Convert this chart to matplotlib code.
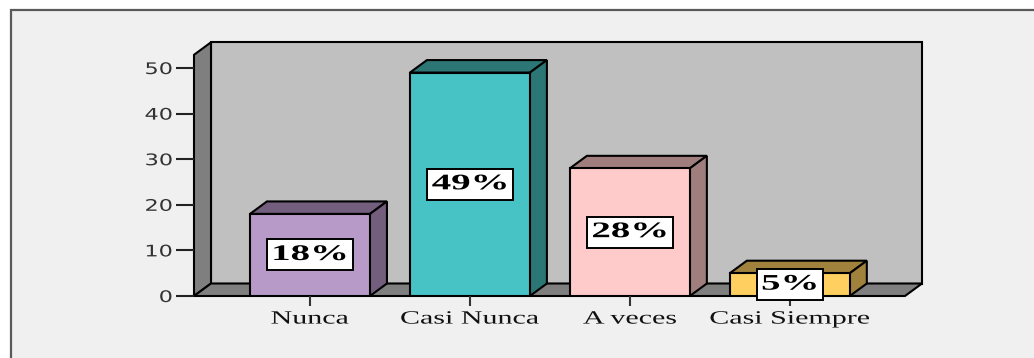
import matplotlib
matplotlib.use("Agg")
import numpy as np
import matplotlib.pyplot as plt
from matplotlib.patches import Polygon, Rectangle
from matplotlib.patheffects import AbstractPathEffect
from matplotlib.transforms import Affine2D, ScaledTranslation

# ---- data -------------------------------------------------------------
categories = ["Nunca", "Casi Nunca", "A veces", "Casi Siempre"]
percentages = [18, 49, 28, 5]
value_labels = [f"{v}%" for v in percentages]
y_ticks = [0, 10, 20, 30, 40, 50]

# ---- style ------------------------------------------------------------
front_colors = ["#B89AC8", "#47C3C5", "#FFCACA", "#FFD060"]
shade_colors = ["#735E7D", "#2D7676", "#A07E7E", "#A0823C"]
WALL_BACK = "#C0C0C0"
WALL_SIDE = "#7F7F7F"
PANEL_BG = "#F0F0F0"

W, H, DPI = 1034, 358, 100
DEPTH_PX = (17, 12.5)          # 3-D depth offset in pixels
BAR_WIDTH = 0.75


class WideGlyphs(AbstractPathEffect):
    """Draw text glyphs horizontally widened by a factor ``sx``."""

    def __init__(self, sx, anchor="center"):
        super().__init__()
        self.sx = sx
        self.anchor = anchor

    def draw_path(self, renderer, gc, tpath, affine, rgbFace=None):
        ext = tpath.get_extents()
        if self.anchor == "right":
            cx = ext.x1
        elif self.anchor == "left":
            cx = ext.x0
        else:
            cx = 0.5 * (ext.x0 + ext.x1)
        widen = Affine2D().translate(-cx, 0).scale(self.sx, 1).translate(cx, 0)
        renderer.draw_path(gc, tpath, widen + affine, rgbFace)


fig = plt.figure(figsize=(W / DPI, H / DPI), dpi=DPI, facecolor="white")

# framed panel behind the chart
fig.patches.append(Rectangle((11 / W, -0.2), 1.2, (H - 10) / H + 0.2,
                             transform=fig.transFigure, facecolor=PANEL_BG,
                             edgecolor="#5A5A5A", linewidth=1.6, zorder=-5))

# plot area (front plane)
x_left, x_right, y_zero, y_top = 194, 905, 296, 54.8
ax = fig.add_axes([x_left / W, (H - y_zero) / H,
                   (x_right - x_left) / W, (y_zero - y_top) / H])
ax.set_xlim(-0.725, 3.72)
ax.set_ylim(0, 52.9)
ax.set_facecolor("none")
for s in ax.spines.values():
    s.set_visible(False)

# depth offset expressed in data units
p0 = ax.transData.transform((0, 0))
ddx, ddy = ax.transData.inverted().transform(p0 + np.array(DEPTH_PX))

x0, x1 = ax.get_xlim()
y0, y1 = ax.get_ylim()
edge = dict(edgecolor="black", linewidth=1.5, clip_on=False)

# back wall, left wall and floor
ax.add_patch(Polygon([(x0 + ddx, y0 + ddy), (x1 + ddx, y0 + ddy),
                      (x1 + ddx, y1 + ddy), (x0 + ddx, y1 + ddy)],
                     facecolor=WALL_BACK, zorder=1, **edge))
ax.add_patch(Polygon([(x0, y0), (x0 + ddx, y0 + ddy),
                      (x0 + ddx, y1 + ddy), (x0, y1)],
                     facecolor=WALL_SIDE, zorder=1.5, **edge))
ax.add_patch(Polygon([(x0, y0), (x1, y0), (x1 + ddx, y0 + ddy),
                      (x0 + ddx, y0 + ddy)],
                     facecolor=WALL_SIDE, zorder=1.5, **edge))

# bars: front faces plus top and side faces
idx = np.arange(len(categories))
ax.bar(idx, percentages, width=BAR_WIDTH, color=front_colors,
       edgecolor="black", linewidth=1.5, zorder=3)
for i, v in zip(idx, percentages):
    l, r = i - BAR_WIDTH / 2, i + BAR_WIDTH / 2
    ax.add_patch(Polygon([(l, v), (r, v), (r + ddx, v + ddy), (l + ddx, v + ddy)],
                         facecolor=shade_colors[i], zorder=2.9, **edge))
    ax.add_patch(Polygon([(r, 0), (r + ddx, ddy), (r + ddx, v + ddy), (r, v)],
                         facecolor=shade_colors[i], zorder=2.9, **edge))

# percentage labels in white boxes
renderer = fig.canvas.get_renderer()
label_stretch = 1.75
for i, v, lab in zip(idx, percentages, value_labels):
    t = ax.text(i, v / 2, lab, ha="center", va="center", fontsize=16,
                fontweight="bold", family="Liberation Serif", color="black",
                zorder=6, path_effects=[WideGlyphs(label_stretch)])
    bb = t.get_window_extent(renderer)
    w_px = bb.width * label_stretch + 8
    h_px = 31
    box_tr = fig.dpi_scale_trans + ScaledTranslation(i, v / 2, ax.transData)
    ax.add_patch(Rectangle((-w_px / 2 / DPI, -h_px / 2 / DPI), w_px / DPI, h_px / DPI,
                           transform=box_tr, facecolor="white", edgecolor="black",
                           linewidth=1.4, zorder=5, clip_on=False))

# axes ticks and labels
ax.set_xticks(idx, categories)
ax.tick_params(axis="x", length=7, width=1.5, pad=3.5, color="#333333",
               labelsize=13.5, labelcolor="#111111")
for lbl in ax.get_xticklabels():
    lbl.set_family("Liberation Serif")
    lbl.set_path_effects([WideGlyphs(1.6)])

ax.set_yticks(y_ticks)
ax.tick_params(axis="y", length=13, width=1.5, pad=2.5, color="#222222",
               labelsize=11.5, labelcolor="#333333")
for lbl in ax.get_yticklabels():
    lbl.set_family("DejaVu Sans")
    lbl.set_path_effects([WideGlyphs(1.4, anchor="right")])

fig.savefig("out.png", dpi=DPI, facecolor=fig.get_facecolor())
